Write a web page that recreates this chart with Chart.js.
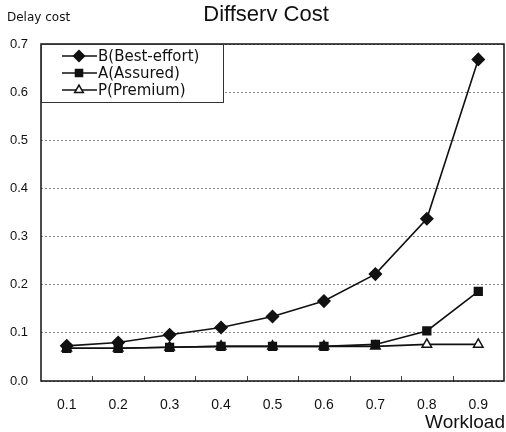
<!DOCTYPE html>
<html>
<head>
<meta charset="utf-8">
<script src="https://cdn.jsdelivr.net/npm/chart.js@4"></script>
<style>
  body { margin: 0; background: #fff; }
  #wrap { width: 506px; height: 432px; }
</style>
</head>
<body>
<div id="wrap"><canvas id="chart" width="506" height="432"></canvas></div>
<script>
const workload = ["0.1", "0.2", "0.3", "0.4", "0.5", "0.6", "0.7", "0.8", "0.9"];
const bestEffort = [0.073, 0.080, 0.096, 0.111, 0.134, 0.166, 0.222, 0.337, 0.668];
const assured = [0.068, 0.068, 0.070, 0.072, 0.072, 0.072, 0.076, 0.104, 0.186];
const premium = [0.068, 0.068, 0.070, 0.072, 0.072, 0.072, 0.072, 0.076, 0.076];
const yTicks = [0, 0.1, 0.2, 0.3, 0.4, 0.5, 0.6, 0.7];

const FONT = "'Liberation Sans', Arial, sans-serif";
const WIDE = "'DejaVu Sans', 'Liberation Sans', sans-serif";

// frame, x tick marks, legend and labels drawn on top of the chart
const decor = {
  id: "decor",
  beforeDatasetsDraw(chart) {
    const { ctx, chartArea: a, scales } = chart;
    ctx.save();
    // short tick marks at category boundaries on the bottom axis
    ctx.strokeStyle = "#444";
    ctx.lineWidth = 1;
    for (let i = 0; i < workload.length - 1; i++) {
      const x = Math.round((scales.x.getPixelForValue(i) + scales.x.getPixelForValue(i + 1)) / 2) + 0.5;
      ctx.beginPath();
      ctx.moveTo(x, a.bottom);
      ctx.lineTo(x, a.bottom - 5);
      ctx.stroke();
    }
    ctx.restore();
  },
  afterDraw(chart) {
    const { ctx, chartArea: a } = chart;
    ctx.save();
    ctx.strokeStyle = "#111";
    ctx.lineWidth = 1.5;
    ctx.strokeRect(a.left, a.top, a.right - a.left, a.bottom - a.top);

    // legend box
    const lx = a.left, ly = a.top, lw = 182, lh = 58;
    ctx.fillStyle = "#fff";
    ctx.fillRect(lx, ly, lw, lh);
    ctx.lineWidth = 1;
    ctx.strokeStyle = "#333";
    ctx.strokeRect(lx + 0.5, ly + 0.5, lw, lh);
    ctx.font = "15px " + WIDE;
    ctx.textBaseline = "middle";
    ctx.textAlign = "left";
    chart.data.datasets.forEach((ds, i) => {
      const y = ly + 12 + i * 17;
      ctx.strokeStyle = "#111";
      ctx.lineWidth = 1.5;
      ctx.beginPath();
      ctx.moveTo(lx + 21, y);
      ctx.lineTo(lx + 56, y);
      ctx.stroke();
      ctx.fillStyle = ds.pointBackgroundColor;
      ctx.strokeStyle = ds.pointBorderColor;
      ctx.lineWidth = ds.pointBorderWidth;
      Chart.helpers.drawPoint(ctx, {
        pointStyle: ds.pointStyle,
        radius: ds.pointRadius - 0.5,
        borderWidth: ds.pointBorderWidth
      }, lx + 38, y);
      ctx.fillStyle = "#111";
      ctx.fillText(ds.label, lx + 57, y + 1);
    });

    // text labels
    ctx.fillStyle = "#111";
    ctx.textBaseline = "middle";
    ctx.font = "12px " + WIDE;
    ctx.textAlign = "left";
    ctx.fillText("Delay cost", 7, 18);
    ctx.font = "22px " + FONT;
    ctx.textAlign = "center";
    ctx.fillText("Diffserv Cost", 266, 15);
    ctx.font = "19px " + FONT;
    ctx.textAlign = "right";
    ctx.fillText("Workload", 505, 423);
    ctx.restore();
  }
};

function series(label, data, style, radius, fill) {
  return {
    label: label,
    data: data,
    borderColor: "#111",
    borderWidth: 1.6,
    pointStyle: style,
    pointRadius: radius,
    pointHoverRadius: radius,
    pointBackgroundColor: fill,
    pointBorderColor: "#111",
    pointBorderWidth: 1.5,
    tension: 0,
    fill: false
  };
}

new Chart(document.getElementById("chart"), {
  type: "line",
  data: {
    labels: workload,
    datasets: [
      series("B(Best-effort)", bestEffort, "rectRot", 6, "#111"),
      series("A(Assured)", assured, "rect", 5.5, "#111"),
      series("P(Premium)", premium, "triangle", 5.5, "#fff")
    ]
  },
  options: {
    responsive: false,
    animation: false,
    layout: { autoPadding: false, padding: { left: 0, top: 44, right: 2, bottom: 0 } },
    plugins: {
      legend: { display: false },
      title: { display: false },
      tooltip: { enabled: false }
    },
    scales: {
      x: {
        type: "category",
        offset: true,
        afterFit(axis) {
          axis.height = 51;
          axis.paddingLeft = 0;
          axis.paddingRight = 0;
        },
        grid: { display: false, drawTicks: false },
        border: { display: false },
        ticks: { color: "#111", font: { family: FONT, size: 14 }, padding: 16, maxRotation: 0 }
      },
      y: {
        min: 0,
        max: 0.7,
        afterFit(axis) { axis.width = 41; },
        afterBuildTicks(axis) { axis.ticks = yTicks.map(v => ({ value: v })); },
        grid: { color: "#888", lineWidth: 1, drawTicks: false },
        border: { display: false, dash: [2, 2] },
        ticks: {
          color: "#111",
          font: { family: FONT, size: 13 },
          padding: 13,
          callback: v => v.toFixed(1)
        }
      }
    }
  },
  plugins: [decor]
});
</script>
</body>
</html>
